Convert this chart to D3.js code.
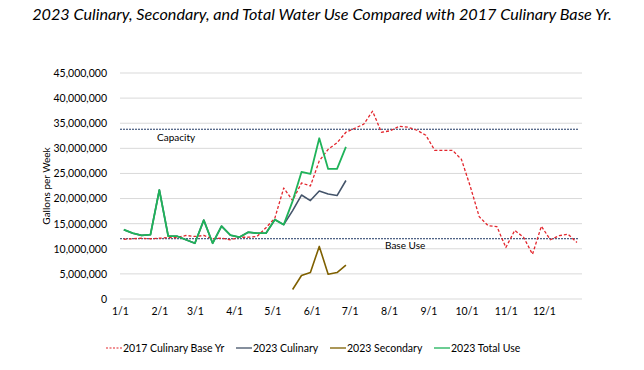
<!DOCTYPE html>
<html>
<head>
<meta charset="utf-8">
<script src="https://cdn.jsdelivr.net/npm/d3@7"></script>
<style>
body { margin: 0; background: #fff; }
text { font-family: Lato, "Open Sans", sans-serif; fill: #000; }
</style>
</head>
<body>
<script>
// weekly values, millions of gallons (first week ends 1/4)
var base2017 = [11.9, 12.0, 12.1, 12.0, 12.1, 12.25, 12.25, 12.65, 12.45, 12.65, 12.0, 12.1, 11.8, 12.3, 12.3, 12.45,
    14.2, 16.1, 22.1, 19.6, 23.1, 22.5, 27.5, 29.8, 31.1, 33.2, 34.0, 34.8, 37.4, 33.2, 33.5, 34.4, 34.2, 33.6, 32.6,
    29.6, 29.6, 29.6, 27.8, 22.4, 16.4, 14.6, 14.4, 10.25, 13.65, 12.3, 8.9, 14.5, 11.8, 12.6, 12.9, 11.25];
var culinary2023 = [13.8, 13.1, 12.67, 12.8, 21.7, 12.5, 12.5, 11.8, 11.1, 15.7, 11.1, 14.5, 12.7, 12.3, 13.3, 13.1,
    13.1, 15.8, 14.8, 17.6, 20.7, 19.6, 21.5, 20.9, 20.6, 23.6];
var secondary2023 = [null, null, null, null, null, null, null, null, null, null, null, null, null, null, null, null,
    null, null, null, 1.9, 4.67, 5.27, 10.47, 4.93, 5.27, 6.73];
var total2023 = [13.8, 13.1, 12.67, 12.8, 21.7, 12.5, 12.5, 11.8, 11.1, 15.7, 11.1, 14.5, 12.7, 12.3, 13.3, 13.1,
    13.1, 15.8, 14.8, 19.5, 25.3, 24.9, 32.0, 25.9, 25.9, 30.3];
var capacity = 33.8;
var baseUse = 12.0;
var yTicks = [0, 5, 10, 15, 20, 25, 30, 35, 40, 45];
var seriesNames = ["2017 Culinary Base Yr", "2023 Culinary", "2023 Secondary", "2023 Total Use"];
var seriesColors = ["#e3262d", "#44546a", "#7f6000", "#1fb35a"];

var width = 644, height = 370;
var plotLeft = 120, plotRight = 582, plotTop = 73, plotBottom = 299;

function week_date(i) {
    return new Date(2023, 0, 4 + 7 * i);
}

var x = d3.scaleTime()
    .domain([new Date(2023, 0, 1), new Date(2023, 11, 31)])
    .range([plotLeft, plotRight]);
var y = d3.scaleLinear()
    .domain([0, 45])
    .range([plotBottom, plotTop]);

var svg = d3.select('body').append('svg').attr("width", width).attr("height", height);

svg.append("text")
    .attr("x", 322)
    .attr("y", 20)
    .attr("text-anchor", "middle")
    .attr("font-size", "16.2px")
    .attr("font-style", "italic")
    .text("2023 Culinary, Secondary, and Total Water Use Compared with 2017 Culinary Base Yr.");

// gridlines
svg.selectAll("line.grid")
    .data(yTicks)
    .enter()
    .append("line")
    .attr("class", "grid")
    .attr("x1", plotLeft)
    .attr("x2", plotRight)
    .attr("y1", function(d) { return y(d); })
    .attr("y2", function(d) { return y(d); })
    .attr("stroke", "#d9d9d9")
    .attr("stroke-width", 1);

var yAxis = svg.append("g")
    .attr("transform", "translate(" + plotLeft + ",0)")
    .call(d3.axisLeft(y).tickValues(yTicks).tickSize(0).tickPadding(13)
        .tickFormat(function(d) { return d3.format(",")(d * 1000000); }));
yAxis.select(".domain").remove();
yAxis.selectAll("text").attr("font-size", "10.5px").attr("font-family", "Lato, sans-serif");

var xAxis = svg.append("g")
    .attr("transform", "translate(0," + plotBottom + ")")
    .call(d3.axisBottom(x).ticks(d3.timeMonth.every(1)).tickSize(0).tickPadding(9)
        .tickFormat(d3.timeFormat("%-m/%-d")));
xAxis.select(".domain").remove();
xAxis.selectAll("text").attr("font-size", "10.5px").attr("font-family", "Lato, sans-serif");

svg.append("text")
    .attr("transform", "translate(50,186) rotate(-90)")
    .attr("text-anchor", "middle")
    .attr("font-size", "10px")
    .text("Gallons per Week");

// reference lines
[capacity, baseUse].forEach(function(v) {
    svg.append("line")
        .attr("x1", plotLeft)
        .attr("x2", plotRight - 4)
        .attr("y1", y(v))
        .attr("y2", y(v))
        .attr("stroke", "#1f3864")
        .attr("stroke-width", 1)
        .attr("stroke-dasharray", "2,1");
});
svg.append("text").attr("x", 157).attr("y", 141).attr("font-size", "10px").text("Capacity");
svg.append("text").attr("x", 385).attr("y", 249).attr("font-size", "10px").text("Base Use");

var line = d3.line()
    .defined(function(d) { return d != null; })
    .x(function(d, i) { return x(week_date(i)); })
    .y(function(d) { return y(d); });

var series = [base2017, culinary2023, secondary2023, total2023];
var widths = [1.3, 1.6, 1.6, 1.8];
var dashes = ["3,2", null, null, null];

svg.selectAll("path.series")
    .data(series)
    .enter()
    .append("path")
    .attr("class", "series")
    .attr("d", line)
    .attr("fill", "none")
    .attr("stroke", function(d, i) { return seriesColors[i]; })
    .attr("stroke-width", function(d, i) { return widths[i]; })
    .attr("stroke-dasharray", function(d, i) { return dashes[i]; })
    .attr("stroke-linejoin", "round");

// legend
var legendX = [106, 236, 330, 434];
var legend = svg.selectAll("g.legend")
    .data(seriesNames)
    .enter()
    .append("g")
    .attr("class", "legend")
    .attr("transform", function(d, i) { return "translate(" + legendX[i] + ",348)"; });
legend.append("line")
    .attr("x1", 0)
    .attr("x2", 16)
    .attr("stroke", function(d, i) { return seriesColors[i]; })
    .attr("stroke-width", function(d, i) { return i == 0 ? 1.2 : 2; })
    .attr("stroke-dasharray", function(d, i) { return i == 0 ? "2,1.5" : null; })
    .attr("opacity", function(d, i) { return i == 0 ? 1 : 0.65; });
legend.append("text")
    .attr("x", 17)
    .attr("y", 4)
    .attr("font-size", "10.5px")
    .text(function(d) { return d; });
</script>
</body>
</html>
